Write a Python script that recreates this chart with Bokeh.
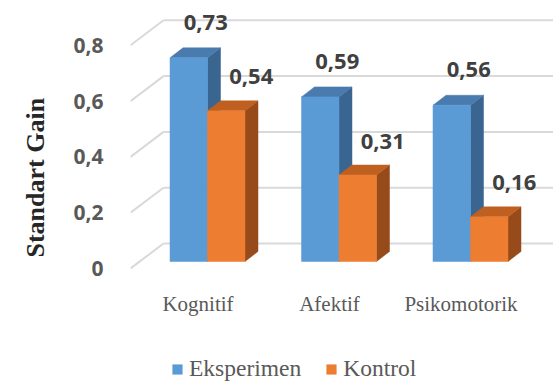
from bokeh.plotting import figure
from bokeh.models import (Range1d, LinearAxis, FixedTicker, CustomJSTickFormatter,
                          Legend, LegendItem, ColumnDataSource, Title)
from bokeh.core.properties import value
from bokeh.embed import file_html
from bokeh.resources import INLINE

# ---------------- data ----------------
categories = ["Kognitif", "Afektif", "Psikomotorik"]
eksperimen = [0.73, 0.59, 0.56]
kontrol = [0.54, 0.31, 0.16]
series_names = ["Eksperimen", "Kontrol"]
y_ticks = [0, 0.2, 0.4, 0.6, 0.8]
y_title = "Standart Gain"

# ---------------- layout / style ----------------
W, H = 553, 383
BORDER_L, BORDER_B = 130, 0
FRAME_W, FRAME_H = W - BORDER_L, H - BORDER_B
PX_PER_CAT = 131.5          # pixels between categories
PX_PER_UNIT = 279.0         # pixels per 1.0 of value
CAT0_PX = 77.0              # first category (shared bar edge) from frame left
ZERO_PX = 261.0             # bar-plane zero from top
FRONT_ZERO_PX = 268.0       # front-plane zero from top (axis labels)
BACK_ZERO_PX = 243.0        # back-wall zero from top
BACK_LEFT_PX = 33.0         # back wall left edge from frame left

BLUE = dict(front="#5B9BD5", top="#4A7BAE", side="#3A6591")
ORANGE = dict(front="#ED7D31", top="#BF6020", side="#974B1A")
GRID = "#D9D9D9"

x_start = -CAT0_PX / PX_PER_CAT
x_end = (FRAME_W - CAT0_PX) / PX_PER_CAT
y_start = (ZERO_PX - FRAME_H) / PX_PER_UNIT
y_end = ZERO_PX / PX_PER_UNIT

bar_w = 37.5 / PX_PER_CAT
dx = 13.0 / PX_PER_CAT
dy = 10.0 / PX_PER_UNIT
back_dy = (ZERO_PX - BACK_ZERO_PX) / PX_PER_UNIT
front_dy = (ZERO_PX - FRONT_ZERO_PX) / PX_PER_UNIT
back_left = x_start + BACK_LEFT_PX / PX_PER_CAT

p = figure(width=W, height=H, x_range=Range1d(x_start, x_end),
           y_range=Range1d(y_start, y_end), output_backend="svg",
           toolbar_location=None, x_axis_type=None, y_axis_type=None,
           min_border_left=BORDER_L, min_border_right=0, min_border_top=0,
           min_border_bottom=BORDER_B)
p.outline_line_color = None
p.background_fill_color = "white"
p.border_fill_color = "white"
p.extra_y_ranges = {"front": Range1d((FRONT_ZERO_PX - FRAME_H) / PX_PER_UNIT,
                                     FRONT_ZERO_PX / PX_PER_UNIT)}

# ---------------- walls / gridlines ----------------
p.segment(x0=[back_left] * len(y_ticks), y0=[t + back_dy for t in y_ticks],
          x1=[x_end] * len(y_ticks), y1=[t + back_dy for t in y_ticks],
          line_color=GRID, line_width=2)
p.segment(x0=[x_start] * len(y_ticks), y0=[t + front_dy for t in y_ticks],
          x1=[back_left] * len(y_ticks), y1=[t + back_dy for t in y_ticks],
          line_color=GRID, line_width=2)

# ---------------- 3D bars ----------------
def bar3d(values, offset, colors):
    lefts = [i + offset for i in range(len(values))]
    rights = [l + bar_w for l in lefts]
    side_xs = [[r, r + dx, r + dx, r] for r in rights]
    side_ys = [[0, dy, v + dy, v] for v in values]
    top_xs = [[l, r, r + dx, l + dx] for l, r in zip(lefts, rights)]
    top_ys = [[v, v, v + dy, v + dy] for v in values]
    p.patches(side_xs, side_ys, fill_color=colors["side"], line_color=colors["side"], line_width=0.5)
    p.patches(top_xs, top_ys, fill_color=colors["top"], line_color=colors["top"], line_width=0.5)
    src = ColumnDataSource(dict(left=lefts, right=rights, top=values, bottom=[0] * len(values)))
    return p.quad(left="left", right="right", top="top", bottom="bottom", source=src,
                  fill_color=colors["front"], line_color=colors["front"], line_width=0.5)

r_eks = bar3d(eksperimen, -bar_w, BLUE)
r_kon = bar3d(kontrol, 0.0, ORANGE)

# ---------------- data labels ----------------
def fmt(v):
    return f"{v:.2f}".replace(".", ",")

lab_font = dict(text_font=value("Open Sans"), text_font_style="bold",
                text_font_size="22px", text_color="#404040",
                text_align="center", text_baseline="middle")
p.text(x=[i - bar_w / 2 for i in range(len(categories))], y=eksperimen,
       text=[fmt(v) for v in eksperimen], x_offset=17, y_offset=-35.5, **lab_font)
p.text(x=[i + bar_w / 2 for i in range(len(categories))], y=kontrol,
       text=[fmt(v) for v in kontrol], x_offset=25, y_offset=-34, **lab_font)

# ---------------- category labels ----------------
p.text(x=list(range(len(categories))), y=[0] * len(categories), text=categories,
       x_offset=-9.5, y_offset=42, text_font=value("Liberation Serif"),
       text_font_size="21px", text_color="#595959", text_align="center",
       text_baseline="middle")

# ---------------- y axis ----------------
yaxis = LinearAxis(y_range_name="front", ticker=FixedTicker(ticks=y_ticks),
                   formatter=CustomJSTickFormatter(
                       code="return tick == 0 ? '0' : tick.toFixed(1).replace('.', ',');"))
yaxis.axis_line_color = None
yaxis.major_tick_line_color = None
yaxis.minor_tick_line_color = None
yaxis.major_tick_out = 0
yaxis.major_tick_in = 0
yaxis.major_label_standoff = 27
yaxis.major_label_text_font = "Open Sans"
yaxis.major_label_text_font_style = "bold"
yaxis.major_label_text_font_size = "21px"
yaxis.major_label_text_color = "#595959"
p.add_layout(yaxis, "left")

ytitle = Title(text=y_title, align="left", vertical_align="top", offset=126, standoff=38,
               text_font="Liberation Serif", text_font_style="bold",
               text_font_size="26px", text_color="#262626")
p.add_layout(ytitle, "left")

# ---------------- legend ----------------
legend = Legend(items=[LegendItem(label=series_names[0], renderers=[r_eks]),
                       LegendItem(label=series_names[1], renderers=[r_kon])],
                orientation="horizontal", location=(41, 1),
                glyph_width=12, glyph_height=12, label_standoff=6, spacing=24,
                padding=0, margin=0, border_line_color=None,
                background_fill_alpha=0, label_height=26,
                label_text_font="Liberation Serif", label_text_font_size="23.5px",
                label_text_color="#595959")
p.add_layout(legend, "center")

open("out.html", "w").write(file_html(p, INLINE))
